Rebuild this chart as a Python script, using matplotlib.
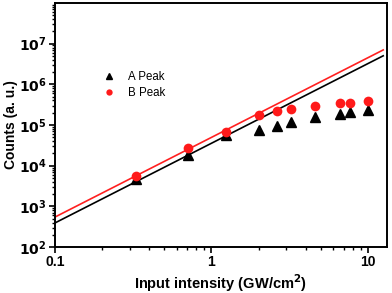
import numpy as np
import matplotlib
matplotlib.use("Agg")
import matplotlib.pyplot as plt
from matplotlib.ticker import LogLocator, NullFormatter, FixedLocator, FixedFormatter

plt.rcParams['font.family'] = ['Liberation Sans', 'DejaVu Sans']

# Data
intensity = [0.33, 0.71, 1.23, 2.0, 2.64, 3.24, 4.58, 6.6, 7.67, 10.0]
a_peak = [4650, 18000, 56000, 74000, 97000, 115000, 155000, 190000, 205000, 230000]
b_peak = [5500, 27000, 69000, 173000, 215000, 240000, 290000, 340000, 345000, 380000]

# Power-law fits: counts = amp * I**slope
fit_range = [0.1, 12.5]
a_fit_amp, a_fit_slope = 35500, 1.96
b_fit_amp, b_fit_slope = 49500, 1.96

xticks = [0.1, 1, 10]
xtick_labels = ["0.1", "1", "10"]
yticks = [1e2, 1e3, 1e4, 1e5, 1e6, 1e7]
ytick_labels = [r"$\mathbf{10^{%d}}$" % k for k in range(2, 8)]

fig = plt.figure(figsize=(3.92, 2.93), dpi=100)
ax = fig.add_axes([0.140, 0.157, 0.847, 0.833])

xf = np.logspace(np.log10(fit_range[0]), np.log10(fit_range[1]), 100)
ax.plot(xf, a_fit_amp * xf ** a_fit_slope, color='black', lw=1.2, zorder=2)
ax.plot(xf, b_fit_amp * xf ** b_fit_slope, color='#ff2020', lw=1.2, zorder=2)

ax.plot(intensity, a_peak, linestyle='none', marker='^', ms=7.5, color='black',
        label='A Peak', zorder=3)
ax.plot(intensity, b_peak, linestyle='none', marker='o', ms=7, color='#ff1a1a',
        mec='none', label='B Peak', zorder=4)

ax.set_xscale('log')
ax.set_yscale('log')
ax.set_xlim(0.1, 13.2)
ax.set_ylim(1e2, 1e8)

ax.xaxis.set_major_locator(FixedLocator(xticks))
ax.xaxis.set_major_formatter(FixedFormatter(xtick_labels))
ax.xaxis.set_minor_locator(LogLocator(base=10, subs=np.arange(2, 10)))
ax.xaxis.set_minor_formatter(NullFormatter())
ax.yaxis.set_major_locator(FixedLocator(yticks))
ax.yaxis.set_major_formatter(FixedFormatter(ytick_labels))
ax.yaxis.set_minor_locator(LogLocator(base=10, subs=np.arange(2, 10), numticks=20))
ax.yaxis.set_minor_formatter(NullFormatter())

ax.tick_params(which='major', direction='out', length=4, width=1.2,
               labelsize=10, top=False, right=False, pad=2)
ax.tick_params(which='minor', direction='out', length=2.2, width=1.0,
               top=False, right=False)
for lab in ax.get_xticklabels() + ax.get_yticklabels():
    lab.set_fontweight('bold')
for sp in ax.spines.values():
    sp.set_linewidth(1.4)

ax.set_xlabel('Input intensity (GW/cm$^{\\mathbf{2}}$)', fontsize=10.5, fontweight='bold', labelpad=2)
ax.set_ylabel('Counts (a. u.)', fontsize=10, fontweight='bold')
ax.yaxis.set_label_coords(-0.112, 0.5)

leg = ax.legend(loc='upper left', bbox_to_anchor=(0.115, 0.765), frameon=False,
                fontsize=8.3, handletextpad=1.1, labelspacing=0.4, markerscale=0.65,
                handlelength=1.0)

fig.savefig('out.png', dpi=100)
